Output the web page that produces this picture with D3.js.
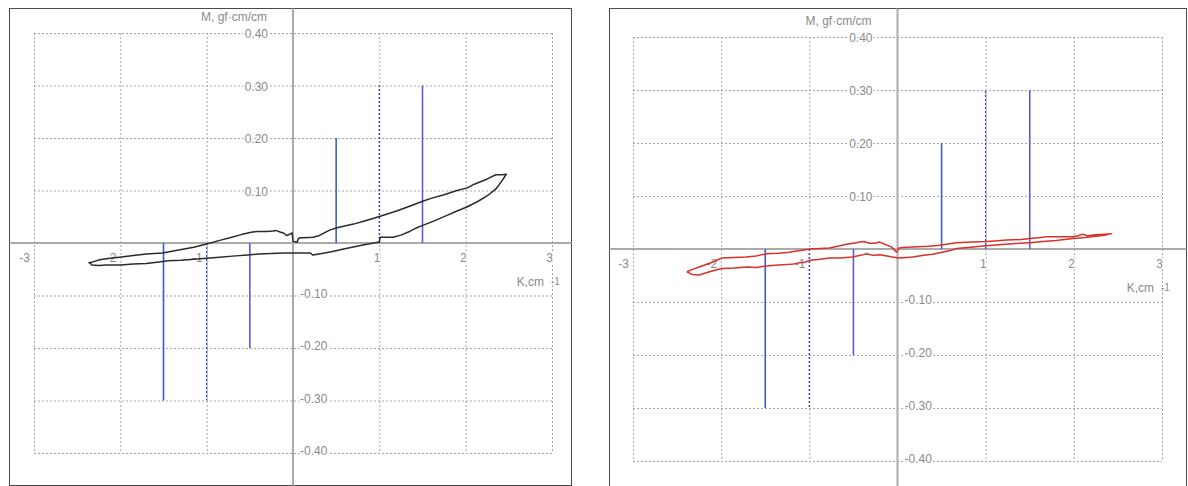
<!DOCTYPE html>
<html>
<head>
<meta charset="utf-8">
<script src="https://cdn.jsdelivr.net/npm/d3@7"></script>
<style>
  html, body { margin: 0; padding: 0; background: #fff; }
  svg { display: block; }
  text { font-family: "Liberation Sans", Arial, sans-serif; }
</style>
</head>
<body>
<svg id="chart" width="1188" height="486"></svg>
<script>
// ---- data ----
const xTicks = [-3, -2, -1, 1, 2, 3];
const yTicks = [0.4, 0.3, 0.2, 0.1, -0.1, -0.2, -0.3, -0.4];
const yTickLabels = ["0.40", "0.30", "0.20", "0.10", "-0.10", "-0.20", "-0.30", "-0.40"];
const yTitle = "M, gf\u00B7cm/cm";
const xTitle = "K,cm";
const xTitleExp = "-1";

// reference bars: curvature K and moment M
const markerK = [0.5, 1.5, -0.5, -1.5];
const markerM = [0.2, 0.3, -0.2, -0.3];
// dashed guides
const guideK = [1, -1];
const guideM = [0.3, -0.3];

// hysteresis loop, first specimen [K, M]: lower branch left->right, then upper branch back
const loopFirst = [
  [-2.36,-0.036],[-2.33,-0.042],[-2.25,-0.043],[-2.16,-0.042],[-2.0,-0.042],[-1.85,-0.040],
  [-1.7,-0.039],[-1.55,-0.036],[-1.45,-0.034],[-1.3,-0.033],[-1.15,-0.031],[-1.0,-0.029],
  [-0.85,-0.027],[-0.7,-0.025],[-0.53,-0.023],[-0.4,-0.021],[-0.25,-0.020],[-0.1,-0.019],
  [0.0,-0.019],[0.12,-0.019],[0.2,-0.019],[0.23,-0.023],[0.3,-0.021],[0.43,-0.017],
  [0.6,-0.011],[0.81,-0.004],[1.0,0.002],[1.01,0.011],[1.16,0.011],[1.25,0.015],[1.35,0.022],
  [1.42,0.028],[1.51,0.034],[1.65,0.043],[1.79,0.053],[1.9,0.061],[2.02,0.069],[2.15,0.080],
  [2.26,0.091],[2.35,0.103],[2.41,0.116],[2.47,0.131],
  [2.42,0.130],[2.35,0.130],[2.25,0.122],[2.1,0.112],[2.02,0.105],[1.9,0.100],[1.75,0.092],
  [1.6,0.085],[1.51,0.080],[1.35,0.070],[1.2,0.061],[1.01,0.051],[0.85,0.043],[0.7,0.036],
  [0.51,0.029],[0.43,0.025],[0.3,0.014],[0.23,0.011],[0.12,0.010],[0.08,0.010],[0.06,0.008],
  [0.05,0.002],[0.0,0.003],[-0.01,0.019],[-0.07,0.014],[-0.11,0.019],[-0.15,0.021],
  [-0.2,0.024],[-0.23,0.023],[-0.3,0.022],[-0.4,0.022],[-0.47,0.021],[-0.6,0.016],
  [-0.73,0.010],[-0.85,0.005],[-1.0,-0.002],[-1.15,-0.008],[-1.31,-0.013],[-1.51,-0.019],
  [-1.7,-0.021],[-1.85,-0.024],[-2.01,-0.027],[-2.12,-0.029],[-2.24,-0.032],[-2.3,-0.035],
  [-2.36,-0.038],[-2.36,-0.036]
];

// hysteresis loop, second specimen [K, M]
const loopSecond = [
  [-2.39,-0.043],[-2.33,-0.048],[-2.25,-0.049],[-2.15,-0.044],[-2.05,-0.039],[-1.99,-0.037],
  [-1.85,-0.036],[-1.7,-0.034],[-1.6,-0.035],[-1.49,-0.032],[-1.35,-0.030],[-1.2,-0.029],
  [-1.11,-0.026],[-1.05,-0.025],[-0.99,-0.021],[-0.9,-0.020],[-0.77,-0.017],[-0.65,-0.017],
  [-0.51,-0.015],[-0.42,-0.012],[-0.35,-0.009],[-0.28,-0.012],[-0.2,-0.011],[-0.12,-0.013],
  [-0.06,-0.015],[0.02,-0.017],[0.1,-0.016],[0.17,-0.015],[0.3,-0.012],[0.4,-0.010],
  [0.48,-0.007],[0.6,-0.003],[0.67,0.001],[0.8,0.003],[1.0,0.006],[1.15,0.008],[1.3,0.010],
  [1.5,0.012],[1.65,0.014],[1.8,0.016],[1.99,0.020],[2.1,0.021],[2.25,0.024],[2.35,0.026],
  [2.43,0.029],
  [2.35,0.028],[2.25,0.027],[2.15,0.025],[2.1,0.028],[2.05,0.025],[1.99,0.023],[1.85,0.023],
  [1.69,0.023],[1.6,0.021],[1.5,0.020],[1.4,0.018],[1.24,0.017],[1.1,0.015],[1.01,0.014],
  [0.85,0.013],[0.67,0.012],[0.55,0.009],[0.48,0.007],[0.35,0.005],[0.17,0.004],[0.05,0.003],
  [0.02,0.002],[-0.01,-0.006],[-0.07,0.004],[-0.13,0.008],[-0.2,0.013],[-0.26,0.011],
  [-0.32,0.011],[-0.38,0.014],[-0.43,0.013],[-0.5,0.011],[-0.58,0.009],[-0.65,0.006],
  [-0.77,0.002],[-0.88,0.001],[-0.99,0.000],[-1.1,-0.003],[-1.23,-0.006],[-1.35,-0.008],
  [-1.49,-0.009],[-1.6,-0.013],[-1.72,-0.015],[-1.85,-0.016],[-1.99,-0.017],[-2.1,-0.025],
  [-2.25,-0.034],[-2.33,-0.039],[-2.39,-0.043]
];

// ---- layout ----
const panels = [
  { frame: [9.5, 8.5, 571.5, 485.5], xr: [34, 552], yr: [453, 33], loop: loopFirst, color: "#2b2b2b" },
  { frame: [609.5, 8.5, 1186.5, 500], xr: [633, 1162], yr: [461, 37], loop: loopSecond, color: "#d9302a" }
];
const markerColors = ["#3f63bf", "#6a58d0", "#6a58d0", "#3f58c8"];
const gridColor = "#a6a6a6";
const textColor = "#8a8a8a";

const svg = d3.select("#chart");

panels.forEach(p => {
  const g = svg.append("g");
  const x = d3.scaleLinear().domain([-3, 3]).range(p.xr);
  const y = d3.scaleLinear().domain([-0.4, 0.4]).range(p.yr);
  const [fx0, fy0, fx1, fy1] = p.frame;

  // frame
  g.append("rect")
    .attr("x", fx0).attr("y", fy0)
    .attr("width", fx1 - fx0).attr("height", fy1 - fy0)
    .attr("fill", "#fff").attr("stroke", "#4a4a4a").attr("stroke-width", 1);

  // horizontal grid
  g.append("g")
    .attr("transform", `translate(${x(-3)},0)`)
    .call(d3.axisLeft(y).tickValues(yTicks).tickSize(-(x(3) - x(-3))).tickFormat(""))
    .call(a => a.select(".domain").remove())
    .selectAll("line")
    .attr("stroke", gridColor).attr("stroke-dasharray", "2,2");

  // vertical grid
  g.append("g")
    .attr("transform", `translate(0,${y(0.4)})`)
    .call(d3.axisTop(x).tickValues(xTicks).tickSize(-(y(-0.4) - y(0.4))).tickFormat(""))
    .call(a => a.select(".domain").remove())
    .selectAll("line")
    .attr("stroke", gridColor).attr("stroke-dasharray", "2,2");

  // main axes
  g.append("line")
    .attr("x1", fx0).attr("x2", fx1).attr("y1", y(0)).attr("y2", y(0))
    .attr("stroke", "#ababab").attr("stroke-width", 2);
  g.append("line")
    .attr("x1", x(0)).attr("x2", x(0)).attr("y1", fy0).attr("y2", fy1)
    .attr("stroke", "#ababab").attr("stroke-width", 2);

  const label = (sel) => sel
    .attr("fill", textColor).attr("font-size", 12)
    .attr("stroke", "#fff").attr("stroke-width", 3).attr("paint-order", "stroke")
    .attr("stroke-linejoin", "round");

  // y tick labels: positive left of axis, negative right of axis
  g.append("g").selectAll("text")
    .data(yTicks)
    .join("text")
    .call(label)
    .attr("x", d => d > 0 ? x(0) - 25 : x(0) + 7)
    .attr("y", d => d > 0 ? y(d) + 1 : y(d) - 2)
    .attr("dominant-baseline", "central")
    .attr("text-anchor", d => d > 0 ? "end" : "start")
    .text((d, i) => yTickLabels[i]);

  // x tick labels
  g.append("g").selectAll("text")
    .data(xTicks)
    .join("text")
    .call(label)
    .attr("x", d => d > 0 ? x(d) + 1 : x(d) - 4)
    .attr("y", y(0) + 15)
    .attr("dominant-baseline", "central")
    .attr("text-anchor", "end")
    .text(d => String(d));

  // axis titles
  g.append("text").call(label)
    .attr("x", x(0) - 26).attr("y", y(0.4) - 16)
    .attr("dominant-baseline", "central").attr("text-anchor", "end")
    .text(yTitle);
  g.append("text").call(label)
    .attr("x", x(3) - 8).attr("y", y(0) + 39)
    .attr("dominant-baseline", "central").attr("text-anchor", "end")
    .text(xTitle);
  g.append("text")
    .attr("fill", textColor).attr("font-size", 10)
    .attr("x", x(3) - 1).attr("y", y(0) + 38)
    .attr("dominant-baseline", "central").attr("text-anchor", "start")
    .text(xTitleExp);

  // dashed guides
  g.append("g").selectAll("line")
    .data(guideK)
    .join("line")
    .attr("x1", d => x(d)).attr("x2", d => x(d))
    .attr("y1", y(0)).attr("y2", (d, i) => y(guideM[i]))
    .attr("stroke", "#3a52c8").attr("stroke-width", 1.5)
    .attr("stroke-dasharray", "2,2");

  // solid reference bars
  g.append("g").selectAll("line")
    .data(markerK)
    .join("line")
    .attr("x1", d => x(d)).attr("x2", d => x(d))
    .attr("y1", y(0)).attr("y2", (d, i) => y(markerM[i]))
    .attr("stroke", (d, i) => markerColors[i]).attr("stroke-width", 1.6);

  // loop
  g.append("path")
    .datum(p.loop)
    .attr("fill", "none")
    .attr("stroke", p.color)
    .attr("stroke-width", 1.5)
    .attr("stroke-linejoin", "round")
    .attr("d", d3.line().x(d => x(d[0])).y(d => y(d[1])));
});
</script>
</body>
</html>
